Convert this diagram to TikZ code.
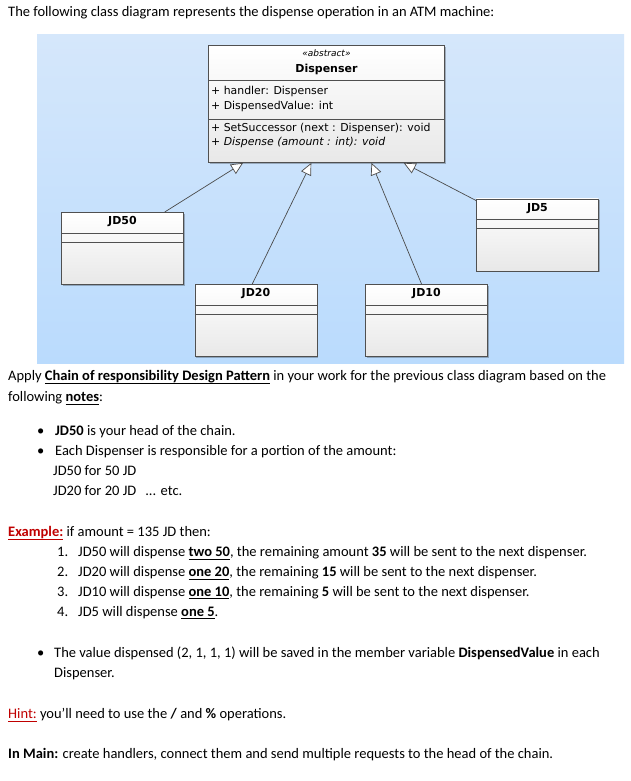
\documentclass[tikz,border=0pt]{standalone}
\usepackage{fontspec}
\setmainfont{Carlito}
\newfontfamily\umlfont{DejaVu Sans}
\newcommand\myul[1]{\vtop{\hbox{\smash{#1}}\kern2pt\hrule height 0.9pt}}
\usetikzlibrary{arrows.meta,calc,shadows}
\definecolor{bgtop}{RGB}{213,231,251}
\definecolor{bgbot}{RGB}{186,219,253}
\definecolor{boxline}{RGB}{80,80,80}
\definecolor{conn}{RGB}{75,75,75}
\definecolor{hred}{RGB}{192,0,0}
\begin{document}
\begin{tikzpicture}[x=1pt,y=-1pt,
  txt/.style={anchor=base west, inner sep=0pt, font=\fontsize{14.5}{17}\selectfont},
  cls/.style={draw=boxline, line width=0.9pt, rectangle, anchor=north west, inner sep=0pt,
    top color=white, bottom color=black!9,
    drop shadow={shadow xshift=1.2pt, shadow yshift=-1.2pt, opacity=0.25, fill=black}},
  smallcls/.style={cls, minimum width=122pt, minimum height=72pt},
  sep/.style={draw=boxline, line width=0.7pt},
  clsname/.style={inner sep=0pt, anchor=base, font=\umlfont\bfseries\fontsize{11}{13}\selectfont},
  member/.style={inner sep=0pt, anchor=base west, font=\umlfont\fontsize{10.9}{13}\selectfont},
  gen/.style={draw=conn, line width=0.7pt, -{Triangle[length=12pt, width=11pt, fill=white]}},
]
\useasboundingbox (0,0) rectangle (631,781);
\fill[white] (0,0) rectangle (631,781);
\shade[top color=bgtop, bottom color=bgbot] (37,35) rectangle (624,363);

% Dispenser
\node[cls, minimum width=236pt, minimum height=116.5pt] (disp) at (208,45.5) {};
\draw[sep] ([yshift=-34.5pt]disp.north west) -- ([yshift=-34.5pt]disp.north east);
\draw[sep] ([yshift=-73.5pt]disp.north west) -- ([yshift=-73.5pt]disp.north east);
\node[inner sep=0pt, anchor=base, font=\umlfont\itshape\fontsize{9}{10}\selectfont] (stereo) at ($(disp.north)+(0,11)$) {«abstract»};
\node[clsname, font=\umlfont\bfseries\fontsize{11}{13}\selectfont] (dname) at ($(disp.north)+(0,27)$) {Dispenser};
\node[member] (m1) at ($(disp.north west)+(3,49.5)$) {+ handler: Dispenser};
\node[member] (m2) at ($(disp.north west)+(3,64.5)$) {+ DispensedValue: int};
\node[member] (m3) at ($(disp.north west)+(3,85.8)$) {+ SetSuccessor (next : Dispenser): void};
\node[member, font=\umlfont\itshape\fontsize{10.9}{13}\selectfont] (m4) at ($(disp.north west)+(3,100.2)$) {+ Dispense (amount : int): void};

% Subclasses
\node[smallcls] (jd50) at (61,212) {};
\node[smallcls] (jd20) at (194.5,284) {};
\node[smallcls] (jd10) at (365,284) {};
\node[smallcls] (jd5) at (476,198.5) {};
\foreach \n/\t in {jd50/JD50, jd20/JD20, jd10/JD10, jd5/JD5}{
  \draw[sep] ([yshift=-21pt]\n.north west) -- ([yshift=-21pt]\n.north east);
  \draw[sep] ([yshift=-30pt]\n.north west) -- ([yshift=-30pt]\n.north east);
  \node[clsname] (\n-name) at ($(\n.north)+(0,12.6)$) {\t};
}

% Generalizations
\draw[gen] ($(jd50.north west)!0.844!(jd50.north east)$) -- ($(disp.south west)!0.148!(disp.south east)$);
\draw[gen] ($(jd20.north west)!0.47!(jd20.north east)$) -- ($(disp.south west)!0.436!(disp.south east)$);
\draw[gen] ($(jd10.north west)!0.46!(jd10.north east)$) -- ($(disp.south west)!0.69!(disp.south east)$);
\draw[gen] ([yshift=-2pt]jd5.north west) -- ($(disp.south west)!0.826!(disp.south east)$);

% Text
\node[txt] (title) at (8,16.5) {The following class diagram represents the dispense operation in an ATM machine:};
\node[txt] (apply) at (8,380.5) {Apply \myul{\textbf{Chain of responsibility Design Pattern}} in your work for the previous class diagram based on the};
\node[txt] (follow) at (8,401.5) {following \myul{\textbf{notes}}:};
\node[txt] (b1) at (37,435) {\textbullet};
\node[txt] (t1) at (55,435) {\textbf{JD50} is your head of the chain.};
\node[txt] (b2) at (37,455.5) {\textbullet};
\node[txt] (t2) at (55,455.5) {Each Dispenser is responsible for a portion of the amount:};
\node[txt] (t3) at (53,475) {JD50 for 50 JD};
\node[txt] (t4) at (53,495) {JD20 for 20 JD\hspace{9pt}... etc.};
\node[txt] (ex) at (8,536.5) {\textcolor{hred}{\myul{\textbf{Example:}}} if amount = 135 JD then:};
\node[txt] (n1) at (57,556.5) {1.};
\node[txt] (i1) at (78,556.5) {JD50 will dispense \myul{\textbf{two 50}}, the remaining amount \textbf{35} will be sent to the next dispenser.};
\node[txt] (n2) at (57,576.5) {2.};
\node[txt] (i2) at (78,576.5) {JD20 will dispense \myul{\textbf{one 20}}, the remaining \textbf{15} will be sent to the next dispenser.};
\node[txt] (n3) at (57,596) {3.};
\node[txt] (i3) at (78,596) {JD10 will dispense \myul{\textbf{one 10}}, the remaining \textbf{5} will be sent to the next dispenser.};
\node[txt] (n4) at (57,616) {4.};
\node[txt] (i4) at (78,616) {JD5 will dispense \myul{\textbf{one 5}}.};
\node[txt] (b3) at (37,657) {\textbullet};
\node[txt] (v1) at (54,657) {The value dispensed (2, 1, 1, 1) will be saved in the member variable \textbf{DispensedValue} in each};
\node[txt] (v2) at (54,677.5) {Dispenser.};
\node[txt] (hint) at (8,718.5) {\textcolor{hred}{\myul{Hint:}} you’ll need to use the \textbf{/} and \textbf{\%} operations.};
\node[txt] (main) at (8,758.5) {\textbf{In Main:} create handlers, connect them and send multiple requests to the head of the chain.};
\end{tikzpicture}
\end{document}
